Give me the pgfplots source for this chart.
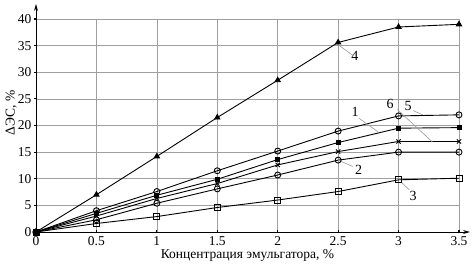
\documentclass[border=0pt]{standalone}
\usepackage{fontspec}
\setmainfont{Liberation Serif}
\usepackage{pgfplots}
\pgfplotsset{compat=1.18}
\usetikzlibrary{arrows.meta}
\begin{document}
\begin{tikzpicture}
\begin{axis}[
  at={(0,0)}, anchor=south west,
  scale only axis, width=423pt, height=213pt,
  xmin=0, xmax=3.5, ymin=0, ymax=40,
  xtick={0,0.5,...,3.5}, ytick={0,5,...,40},
  xticklabels={0,0.5,1,1.5,2,2.5,3,3.5},
  axis lines=left,
  x axis line style={-{Stealth[length=7pt,width=4pt]}, shorten >=-11pt, line width=0.9pt},
  y axis line style={-{Stealth[length=7pt,width=4pt]}, shorten >=-15pt, line width=0.9pt},
  grid=major,
  major grid style={gray!75, line width=0.6pt},
  tick style={black, line width=1.2pt},
  major tick length=3pt,
  tick align=center,
  /pgf/number format/assume math mode=true,
  ticklabel style={font=\fontsize{13.5}{13.5}\selectfont},
  xticklabel style={inner sep=0pt, anchor=north, yshift=-2.5pt},
  yticklabel style={inner sep=0pt, anchor=east, xshift=-3pt},
  label style={font=\fontsize{13.5}{13.5}\selectfont},
  xlabel={Концентрация эмульгатора, \%},
  xlabel style={at={(axis description cs:0.5,0)}, anchor=north, inner sep=0pt, yshift=-17pt},
  ylabel={ΔЭС, \%},
  ylabel style={at={(axis description cs:0,0.56)}, anchor=south, inner sep=0pt, rotate=0, yshift=19pt},
  every axis plot/.append style={black, line width=0.9pt},
  clip=false,
]
% 4 triangles
\addplot[mark=triangle*, mark size=3pt] coordinates {(0,0) (0.5,7.0) (1,14.2) (1.5,21.5) (2,28.5) (2.5,35.6) (3,38.5) (3.5,39.0)};
% 5 top open circles
\addplot[mark=o, mark size=3pt] coordinates {(0,0) (0.5,4.0) (1,7.6) (1.5,11.5) (2,15.2) (2.5,18.95) (3,21.8) (3.5,22.0)};
% 1 filled small squares
\addplot[mark=square*, mark size=2pt] coordinates {(0,0) (0.5,3.5) (1,6.9) (1.5,9.9) (2,13.6) (2.5,16.8) (3,19.5) (3.5,19.6)};
% 6 crosses
\addplot[mark=x, mark size=3pt] coordinates {(0,0) (0.5,3.0) (1,6.3) (1.5,9.1) (2,12.6) (2.5,15.1) (3,17.0) (3.5,17.0)};
% 2 circles
\addplot[mark=o, mark size=3pt] coordinates {(0,0) (0.5,2.3) (1,5.4) (1.5,8.1) (2,10.7) (2.5,13.5) (3,15.0) (3.5,15.0)};
% 3 squares
\addplot[mark=square, mark size=3pt] coordinates {(0,0) (0.5,1.6) (1,2.9) (1.5,4.6) (2,6.0) (2.5,7.6) (3,9.8) (3.5,10.1)};
% labels and leaders
\begin{scope}[font=\fontsize{14}{14}\selectfont]
\draw[gray!80, line width=0.6pt] (axis cs:2.48,35.5) -- (axis cs:2.62,33.2);
\node[anchor=west, inner sep=1pt] at (axis cs:2.6,33.0) {4};
\draw[gray!80, line width=0.6pt] (axis cs:2.67,21.4) -- (axis cs:2.83,18.8);
\node[inner sep=1pt] at (axis cs:2.64,22.6) {1};
\draw[gray!80, line width=0.6pt] (axis cs:2.50,13.5) -- (axis cs:2.62,12.3);
\node[inner sep=1pt] at (axis cs:2.67,11.6) {2};
\draw[gray!80, line width=0.6pt] (axis cs:3.02,9.4) -- (axis cs:3.09,7.9);
\node[inner sep=1pt] at (axis cs:3.12,6.8) {3};
\draw[gray!80, line width=0.6pt] (axis cs:3.12,22.8) -- (axis cs:3.2,22.0);
\node[inner sep=1pt] at (axis cs:3.08,23.7) {5};
\draw[gray!80, line width=0.6pt] (axis cs:2.99,23.0) -- (axis cs:3.28,16.9);
\node[inner sep=1pt] at (axis cs:2.93,24.1) {6};
\end{scope}
\end{axis}
\pgfresetboundingbox
\path (-36pt,-32pt) rectangle (437pt,232pt);
\end{tikzpicture}
\end{document}
